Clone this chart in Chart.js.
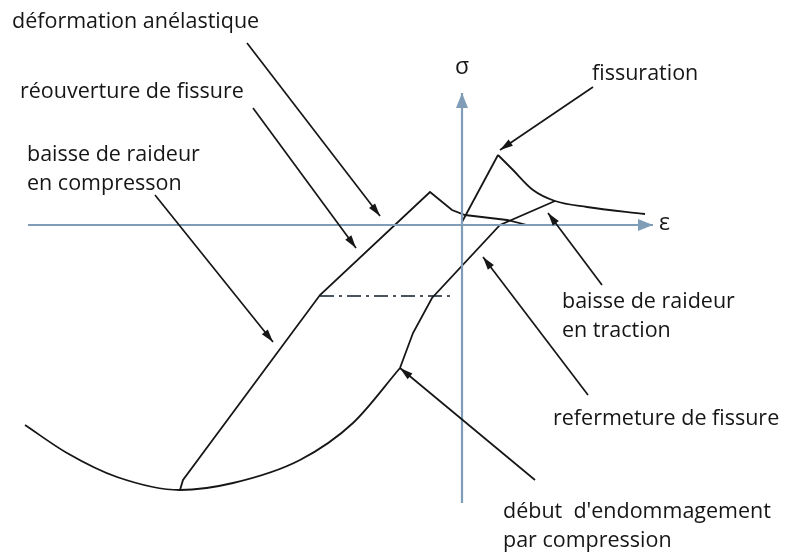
<!DOCTYPE html>
<html>
<head>
<meta charset="utf-8">
<script src="https://cdn.jsdelivr.net/npm/chart.js@4.4.1/dist/chart.umd.min.js"></script>
<style>
    html, body { margin: 0; padding: 0; background: #fff; }
    #wrap { width: 790px; height: 552px; }
</style>
</head>
<body>
<div id="wrap"><canvas id="loop"></canvas></div>
<script>
// axes extents (strain ε, stress σ)
const epsAxis = [-43.4, 19.1];
const sigAxis = [-27.8, 13.2];

// compression envelope
const envEps = [-43.7, -39.5, -34.5, -28.2, -22.9, -16.2, -10.9, -6.2];
const envSig = [-20.0, -22.8, -25.2, -26.5, -25.8, -23.5, -19.8, -14.3];

// reloading branch after compression damage
const relEps = [-6.2, -4.9, -3.0, 3.8, 9.3];
const relSig = [-14.3, -10.8, -7.3, 0.0, 2.4];

// unloading from compression, crack reopening, anelastic part
const unlEps = [-28.2, -27.9, -26.2, -14.2, -3.2, -1.0, 0.3, 4.5, 6.5];
const unlSig = [-26.5, -25.5, -23.2, -7.0, 3.3, 1.5, 1.0, 0.5, 0.0];

// tension: elastic rise up to cracking
const tenEps = [0.0, 3.6];
const tenSig = [0.3, 7.0];

// tension softening after cracking
const sofEps = [3.6, 5.1, 7.1, 9.3, 12.5, 18.3];
const sofSig = [7.0, 5.5, 3.5, 2.4, 1.8, 1.1];

// dash-dot level
const dashEps = [-14.2, -1.0];
const dashSig = [-7.1, -7.1];

const zip = (xs, ys) => xs.map((x, i) => ({ x: x, y: ys[i] }));

const AXIS = '#7f9db6';
const INK = '#161616';
const FONT = '"Open Sans", "Noto Sans", sans-serif';
const LINE_GAP = 29;

// text callouts: label lines, text anchor and arrow (from -> tip) in ε/σ units
const notes = [
    { lines: ['déformation anélastique'], at: [-45.0, 19.7], from: [-21.5, 18.2], to: [-8.2, 0.9] },
    { lines: ['réouverture de fissure'], at: [-44.2, 12.7], from: [-20.9, 11.7], to: [-10.6, -2.3] },
    { lines: ['baisse de raideur', 'en compresson'], at: [-43.5, 6.4], from: [-30.7, 3.0], to: [-18.9, -11.7] },
    { lines: ['fissuration'], at: [13.0, 14.5], from: [13.1, 13.8], to: [3.8, 7.5] },
    { lines: ['baisse de raideur', 'en traction'], at: [10.0, -8.3], from: [14.0, -6.0], to: [8.6, 1.2] },
    { lines: ['refermeture de fissure'], at: [9.1, -20.0], from: [12.6, -17.0], to: [2.1, -3.2] },
    { lines: ['début  d\'endommagement', 'par compression'], at: [4.1, -29.3], from: [7.3, -25.5], to: [-6.2, -14.3] }
];

function lineSet(data, color, width, smooth) {
    return {
        data: data,
        showLine: true,
        borderColor: color,
        borderWidth: width,
        pointRadius: 0,
        cubicInterpolationMode: smooth ? 'monotone' : 'default',
        tension: 0,
        fill: false
    };
}

function arrowHead(ctx, x1, y1, x2, y2, len, half, color) {
    const a = Math.atan2(y2 - y1, x2 - x1);
    ctx.save();
    ctx.fillStyle = color;
    ctx.beginPath();
    ctx.moveTo(x2, y2);
    ctx.lineTo(x2 - len * Math.cos(a) + half * Math.sin(a), y2 - len * Math.sin(a) - half * Math.cos(a));
    ctx.lineTo(x2 - len * Math.cos(a) - half * Math.sin(a), y2 - len * Math.sin(a) + half * Math.cos(a));
    ctx.closePath();
    ctx.fill();
    ctx.restore();
}

const calloutPlugin = {
    id: 'callouts',
    afterDatasetsDraw(chart) {
        const ctx = chart.ctx;
        const xs = chart.scales.x;
        const ys = chart.scales.y;
        const px = v => xs.getPixelForValue(v);
        const py = v => ys.getPixelForValue(v);

        // axis arrowheads
        arrowHead(ctx, px(epsAxis[0]), py(0), px(epsAxis[1]), py(0), 15, 6, AXIS);
        arrowHead(ctx, px(0), py(sigAxis[0]), px(0), py(sigAxis[1]), 15, 6, AXIS);

        ctx.save();
        ctx.fillStyle = INK;
        ctx.font = '23px ' + FONT;
        ctx.textBaseline = 'middle';
        ctx.textAlign = 'center';
        ctx.fillText('σ', px(0), py(sigAxis[1]) - 26);
        ctx.textAlign = 'left';
        ctx.fillText('ε', px(epsAxis[1]) + 6, py(0) - 2);
        ctx.restore();

        notes.forEach(n => {
            const x1 = px(n.from[0]), y1 = py(n.from[1]);
            const x2 = px(n.to[0]), y2 = py(n.to[1]);
            ctx.save();
            ctx.strokeStyle = INK;
            ctx.lineWidth = 1.7;
            ctx.beginPath();
            ctx.moveTo(x1, y1);
            ctx.lineTo(x2, y2);
            ctx.stroke();
            ctx.restore();
            arrowHead(ctx, x1, y1, x2, y2, 13, 3.8, INK);

            ctx.save();
            ctx.fillStyle = INK;
            ctx.font = '21.5px ' + FONT;
            ctx.textAlign = 'left';
            ctx.textBaseline = 'alphabetic';
            n.lines.forEach((t, i) => {
                ctx.fillText(t, px(n.at[0]), py(n.at[1]) + i * LINE_GAP);
            });
            ctx.restore();
        });
    }
};

new Chart(document.getElementById('loop'), {
    type: 'scatter',
    data: {
        datasets: [
            lineSet(zip(epsAxis, [0, 0]), AXIS, 2.2),
            lineSet(zip([0, 0], sigAxis), AXIS, 2.2),
            lineSet(zip(envEps, envSig), INK, 1.8, true),
            lineSet(zip(relEps, relSig), INK, 1.8),
            lineSet(zip(unlEps, unlSig), INK, 1.8),
            lineSet(zip(tenEps, tenSig), INK, 1.8),
            lineSet(zip(sofEps, sofSig), INK, 1.8, true),
            Object.assign(lineSet(zip(dashEps, dashSig), '#4a5560', 2.2), { borderDash: [14, 5, 3, 5] })
        ]
    },
    options: {
        responsive: true,
        maintainAspectRatio: false,
        animation: false,
        layout: { padding: 0 },
        plugins: {
            legend: { display: false },
            tooltip: { enabled: false }
        },
        scales: {
            x: { type: 'linear', min: -46.2, max: 32.8, display: false },
            y: { type: 'linear', min: -32.7, max: 22.5, display: false }
        }
    },
    plugins: [calloutPlugin]
});
</script>
</body>
</html>
